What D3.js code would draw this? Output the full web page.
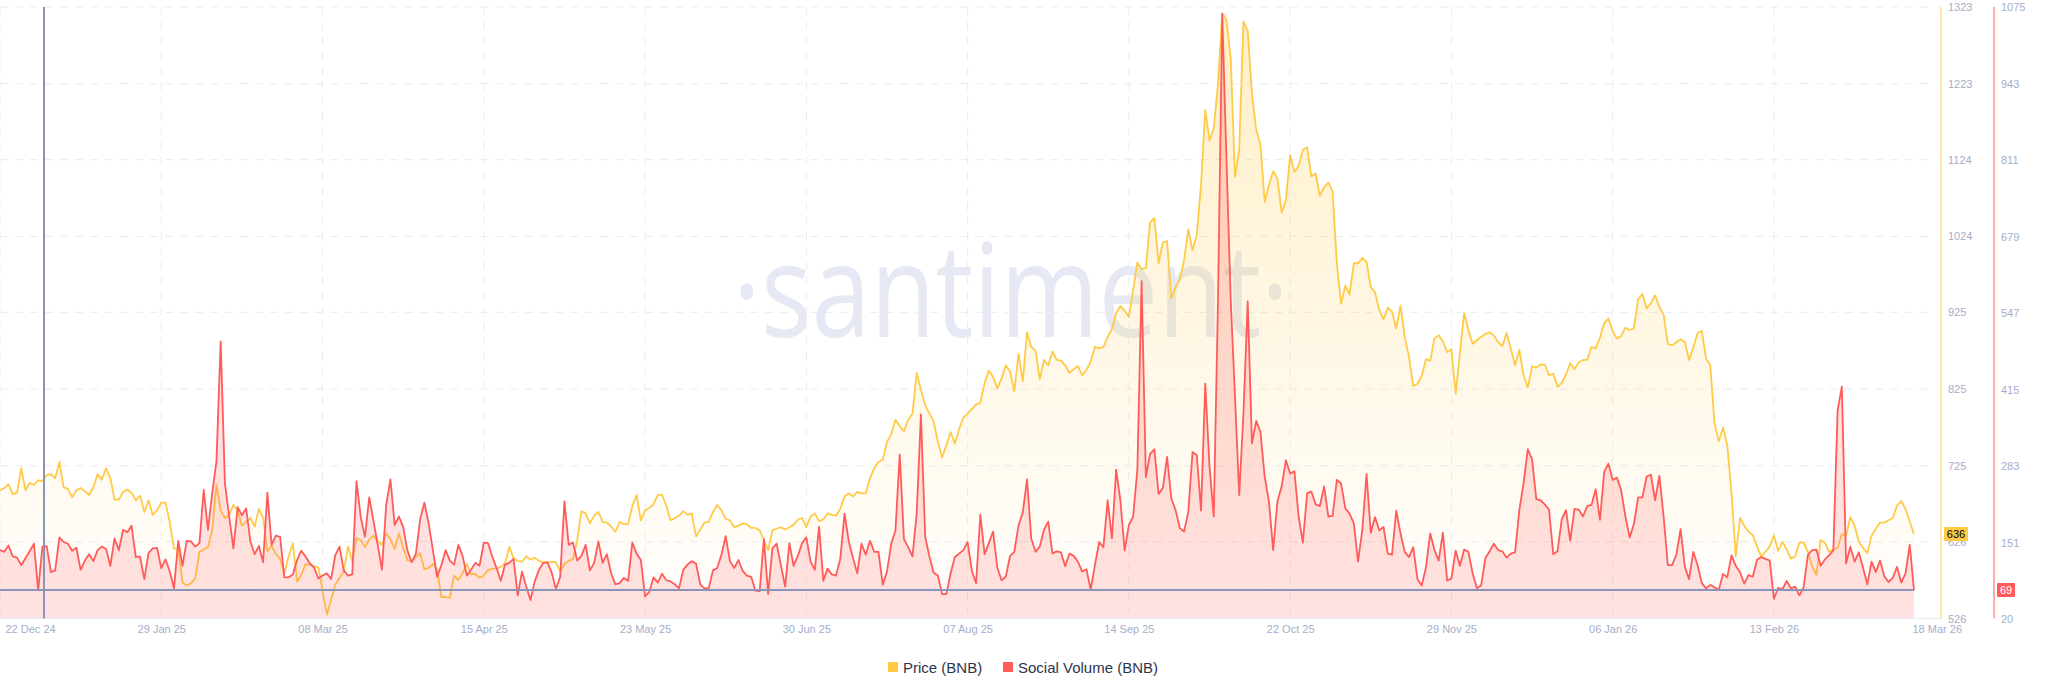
<!DOCTYPE html>
<html>
<head>
<meta charset="utf-8">
<title>Price and Social Volume (BNB)</title>
<script src="https://cdn.jsdelivr.net/npm/d3@7"></script>
<style>
  html, body { margin: 0; padding: 0; background: #fff; }
  svg { display: block; font-family: "Liberation Sans", Arial, sans-serif; }
  .tick-label text { fill: #a5adc9; font-size: 11px; }
</style>
</head>
<body>
<div id="chart"></div>
<script>
// daily values, first one is 22 Dec 24, last one 18 Mar 26
const startDate = new Date(Date.UTC(2024, 11, 22));

const price = [
  693,696,701,688,690,722,693,703,700,706,705,713,714,709,730,697,695,684,693,696,692,687,697,714,707,722,709,681,681,691,694,690,680,686,665,680,661,667,677,677,652,617,617,573,569,572,578,613,616,619,641,701,667,657,661,674,667,647,652,657,646,669,657,613,621,610,604,585,607,624,574,583,597,596,594,593,
  563,531,550,570,579,587,620,600,631,628,619,629,634,627,622,637,629,617,637,618,602,601,606,611,590,592,597,591,554,554,553,582,576,585,597,584,584,579,582,589,591,591,593,598,619,605,601,600,607,603,605,601,599,599,600,599,587,597,601,603,628,666,663,650,660,665,652,651,646,639,652,649,649,673,687,
  654,667,670,675,687,687,673,654,657,660,666,661,663,633,642,651,652,665,674,667,656,654,645,647,650,649,644,644,641,628,615,641,643,645,642,645,648,655,657,645,659,663,653,655,663,661,660,669,685,689,685,691,689,689,709,722,730,733,756,766,785,777,770,785,793,846,824,804,793,783,756,736,752,769,754,773,
  788,793,799,805,807,833,849,841,826,839,856,848,822,871,835,899,880,875,838,863,856,874,863,862,856,846,851,855,843,850,861,880,878,880,893,903,924,933,927,919,954,
  990,981,983,1042,1048,989,1016,1018,943,958,968,993,1033,1006,1026,1091,1189,1149,1165,1223,1315,1306,1256,1102,1137,1304,1292,1210,1163,1144,1069,1091,1109,1100,1055,1071,1130,1108,1116,1137,1140,1102,1106,1077,1088,1094,1083,989,936,960,948,989,989,996,991,958,951,928,916,931,926,904,934,893,
  867,829,832,842,864,862,891,895,887,873,877,819,872,924,902,884,889,893,897,899,895,886,881,898,878,856,876,843,827,855,853,857,857,843,845,828,833,844,859,851,860,863,863,880,878,892,
  911,917,900,891,894,905,902,904,942,949,930,937,947,932,922,884,882,886,890,886,863,879,898,901,865,856,780,757,775,752,689,607,657,647,639,635,620,607,613,620,634,614,626,616,604,607,625,625,613,594,583,628,625,613,616,618,636,634,658,647,626,618,611,634,643,651,651,654,657,673,679,669,652,636
];

const socialVolume = [
  138,135,146,127,125,112,124,136,149,69,144,145,100,103,160,152,149,137,142,104,120,131,119,138,144,140,111,158,138,173,169,180,126,127,88,133,141,142,107,122,101,72,154,111,154,153,144,150,242,173,236,291,498,253,196,141,212,198,210,153,131,145,117,237,147,163,161,91,91,96,121,137,127,115,108,89,
  94,98,88,129,144,103,94,96,257,195,161,229,189,147,104,216,260,181,196,178,137,117,132,191,220,184,138,92,112,138,120,113,147,128,94,104,116,111,151,150,127,107,85,113,116,123,60,101,75,52,84,104,116,117,99,71,92,222,147,151,120,128,147,103,116,153,116,131,98,79,81,90,85,151,132,
  121,58,66,91,82,97,86,84,79,72,104,113,119,115,79,72,72,103,107,130,162,119,107,121,102,94,92,68,67,157,62,141,149,112,75,150,111,128,150,160,118,104,178,85,106,96,94,123,201,153,124,98,149,130,154,135,135,78,101,149,172,303,157,143,127,201,372,161,127,99,94,62,62,98,126,132,
  138,152,102,81,199,131,150,170,108,86,92,128,135,181,203,260,158,135,144,173,187,132,136,134,110,132,128,118,101,105,70,112,152,143,224,158,277,224,137,181,196,
  277,602,264,304,312,235,245,299,227,207,176,170,204,307,302,206,425,282,196,569,1063,811,569,403,233,374,567,322,361,342,265,222,138,222,
  248,293,270,274,196,151,236,239,217,214,248,196,197,259,253,210,201,184,118,173,269,168,195,172,178,132,130,206,167,135,126,143,88,77,108,167,138,120,168,85,89,137,111,139,135,98,72,77,124,136,149,138,136,125,132,134,207,253,312,295,226,224,217,208,131,136,191,207,154,209,208,196,214,216,243,190,
  273,287,259,263,241,196,160,183,229,229,265,268,224,266,196,112,112,130,174,109,88,135,112,81,72,78,74,69,97,91,129,111,100,80,95,92,121,126,123,120,54,73,70,85,72,75,60,74,130,138,139,111,122,129,138,379,420,115,144,118,134,107,79,118,100,120,93,83,90,109,82,98,147,69
];

const dateTicks = ["2024-12-22","2025-01-29","2025-03-08","2025-04-15","2025-05-23","2025-06-30","2025-08-07","2025-09-14","2025-10-22","2025-11-29","2026-01-06","2026-02-13","2026-03-18"];
const dateLabels = ["22 Dec 24","29 Jan 25","08 Mar 25","15 Apr 25","23 May 25","30 Jun 25","07 Aug 25","14 Sep 25","22 Oct 25","29 Nov 25","06 Jan 26","13 Feb 26","18 Mar 26"];
const priceTicks = [526,626,725,825,925,1024,1124,1223,1323];
const socialTicks = [20,151,283,415,547,679,811,943,1075];
const crosshairDate = new Date(Date.UTC(2025, 0, 1, 9));
const legendItems = ["Price (BNB)", "Social Volume (BNB)"];

const YELLOW = "#ffcb47", RED = "#ff5b5b", CROSS = "#8a93b8", GRID = "#e9ebf4";
const width = 2048, height = 693;
const plotTop = 7, plotBottom = 618.5, plotEnd = 1941, redAxisX = 1994;

const dates = price.map((d, i) => new Date(startDate.getTime() + i * 864e5));
const parseDay = d3.utcParse("%Y-%m-%d");

const x = d3.scaleUtc().domain([dates[0], dates[dates.length - 1]]).range([0, 1914]);
const yPrice = d3.scaleLinear().domain([526, 1323]).range([plotBottom, plotTop]);
const ySocial = d3.scaleLinear().domain([20, 1075]).range([plotBottom, plotTop]);

const svg = d3.select("#chart").append("svg").attr("width", width).attr("height", height);

// gradients for the areas
const defs = svg.append("defs");
function addGradient(id, color, from, to) {
  const g = defs.append("linearGradient").attr("id", id).attr("x1", 0).attr("x2", 0).attr("y1", 0).attr("y2", 1);
  g.append("stop").attr("offset", "0%").attr("stop-color", color).attr("stop-opacity", from);
  g.append("stop").attr("offset", "100%").attr("stop-color", color).attr("stop-opacity", to);
}
addGradient("fill-price", YELLOW, 0.3, 0.01);
addGradient("fill-social", RED, 0.26, 0.17);

// watermark, squeezed because the real font is narrower
svg.append("text")
  .attr("x", 1011).attr("y", 337)
  .attr("text-anchor", "middle")
  .attr("textLength", 556)
  .attr("lengthAdjust", "spacingAndGlyphs")
  .style("font-family", "'Open Sans', sans-serif")
  .style("font-weight", 400)
  .style("font-size", "130px")
  .style("fill", "#e6e9f3")
  .text("·santiment·");

// grid
const gridX = svg.append("g");
gridX.selectAll("line").data(dateTicks.slice(0, -1)).enter().append("line")
  .attr("x1", d => x(parseDay(d))).attr("x2", d => x(parseDay(d)))
  .attr("y1", plotTop).attr("y2", 614)
  .style("stroke", GRID).style("stroke-width", 1).style("stroke-dasharray", "8,7");

svg.append("g").selectAll("line").data(priceTicks.slice(1)).enter().append("line")
  .attr("x1", 0).attr("x2", 1934)
  .attr("y1", d => yPrice(d)).attr("y2", d => yPrice(d))
  .style("stroke", GRID).style("stroke-width", 1).style("stroke-dasharray", "8,7");

// areas and lines
function drawSeries(values, y, color, fillId) {
  const area = d3.area().x((d, i) => x(dates[i])).y0(plotBottom).y1(d => y(d));
  const line = d3.line().x((d, i) => x(dates[i])).y(d => y(d));
  svg.append("path").datum(values).attr("d", area).style("fill", `url(#${fillId})`);
  svg.append("path").datum(values).attr("d", line)
    .style("fill", "none").style("stroke", color).style("stroke-width", 1.8).style("stroke-linejoin", "round");
}
drawSeries(price, yPrice, YELLOW, "fill-price");
drawSeries(socialVolume, ySocial, RED, "fill-social");

// axis lines
svg.append("line").attr("x1", 0).attr("x2", plotEnd).attr("y1", plotBottom).attr("y2", plotBottom)
  .style("stroke", GRID).style("stroke-width", 1);
svg.append("line").attr("x1", plotEnd).attr("x2", plotEnd).attr("y1", plotTop).attr("y2", plotBottom)
  .style("stroke", YELLOW).style("stroke-width", 1);
svg.append("line").attr("x1", redAxisX).attr("x2", redAxisX).attr("y1", plotTop).attr("y2", plotBottom)
  .style("stroke", RED).style("stroke-width", 1);

// tick labels
const xAxis = d3.axisBottom(x)
  .tickValues(dateTicks.map(parseDay))
  .tickSize(0).tickPadding(0)
  .tickFormat((d, i) => dateLabels[i]);
const xAxisG = svg.append("g").attr("class", "tick-label").attr("transform", `translate(0,${plotBottom + 7})`).call(xAxis);
xAxisG.select(".domain").remove();
xAxisG.selectAll("text").filter((d, i) => i === 0).attr("text-anchor", "start").attr("x", 5);
xAxisG.selectAll("text").filter((d, i) => i === dateTicks.length - 1).attr("text-anchor", "start").attr("x", -2);

const priceAxisG = svg.append("g").attr("class", "tick-label").attr("transform", `translate(${plotEnd},0)`)
  .call(d3.axisRight(yPrice).tickValues(priceTicks).tickSize(0).tickPadding(7).tickFormat(d3.format("d")));
priceAxisG.select(".domain").remove();

const socialAxisG = svg.append("g").attr("class", "tick-label").attr("transform", `translate(${redAxisX},0)`)
  .call(d3.axisRight(ySocial).tickValues(socialTicks).tickSize(0).tickPadding(7).tickFormat(d3.format("d")));
socialAxisG.select(".domain").remove();

// crosshair
const lastPrice = price[price.length - 1];
const lastSocial = socialVolume[socialVolume.length - 1];
svg.append("line").attr("x1", x(crosshairDate)).attr("x2", x(crosshairDate)).attr("y1", plotTop).attr("y2", plotBottom)
  .style("stroke", CROSS).style("stroke-width", 2);
svg.append("line").attr("x1", 0).attr("x2", x(dates[dates.length - 1]))
  .attr("y1", ySocial(lastSocial)).attr("y2", ySocial(lastSocial))
  .style("stroke", CROSS).style("stroke-width", 2);

// value tags on the axes
function addTag(tagX, tagW, tagY, color, textColor, value) {
  svg.append("rect").attr("x", tagX).attr("y", tagY - 7).attr("width", tagW).attr("height", 14).attr("rx", 1)
    .style("fill", color);
  svg.append("text").attr("x", tagX + tagW / 2).attr("y", tagY).attr("dy", "0.34em")
    .attr("text-anchor", "middle").style("font-size", "11px").style("fill", textColor).text(value);
}
addTag(plotEnd + 3, 24, yPrice(lastPrice), YELLOW, "#000", lastPrice);
addTag(redAxisX + 3, 18, ySocial(lastSocial), RED, "#fff", lastSocial);

// legend
const legendX = [888, 1003];
const legendColors = [YELLOW, RED];
const legend = svg.append("g").selectAll("g").data(legendItems).enter().append("g")
  .attr("transform", (d, i) => `translate(${legendX[i]},662)`);
legend.append("rect").attr("width", 10).attr("height", 10).style("fill", (d, i) => legendColors[i]);
legend.append("text").attr("x", 15).attr("y", 5.5).attr("dy", "0.35em")
  .style("font-size", "15px").style("fill", "#2f354d").text(d => d);
</script>
</body>
</html>
